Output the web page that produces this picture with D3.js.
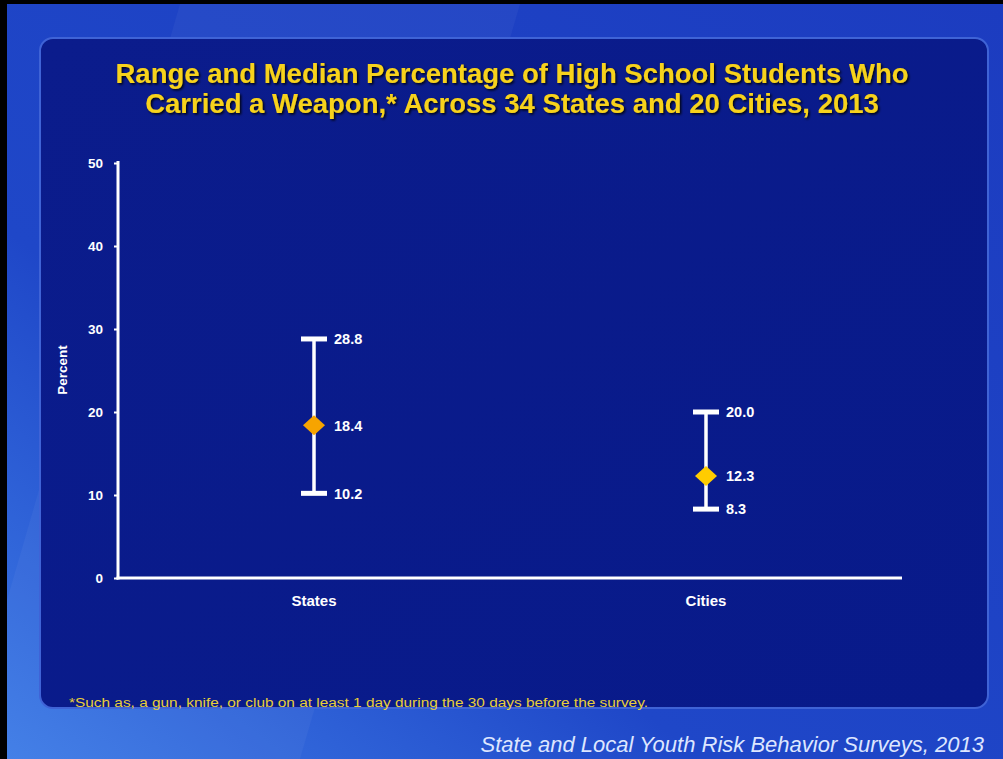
<!DOCTYPE html>
<html><head><meta charset="utf-8">
<script src="https://cdn.jsdelivr.net/npm/d3@7"></script>
<style>html,body{margin:0;padding:0;background:#000;}svg{display:block;}</style>
</head><body>
<svg id="c" width="1003" height="759"></svg>
<script>
const categories = ["States", "Cities"];
const lowValues = [10.2, 8.3];
const medianValues = [18.4, 12.3];
const highValues = [28.8, 20.0];
const yTicks = [0, 10, 20, 30, 40, 50];
const titleLines = ["Range and Median Percentage of High School Students Who", "Carried a Weapon,* Across 34 States and 20 Cities, 2013"];
const footnote = "*Such as, a gun, knife, or club on at least 1 day during the 30 days before the survey.";
const source = "State and Local Youth Risk Behavior Surveys, 2013";
const markerColors = ["#f7a400", "#ffcc00"];

const FONT = "Liberation Sans, Arial, sans-serif";
const svg = d3.select("#c");
const defs = svg.append("defs");
const bg = defs.append("linearGradient").attr("id","bg").attr("x1","0").attr("y1","1").attr("x2","1").attr("y2","0");
bg.append("stop").attr("offset","0").attr("stop-color","#3d7be6");
bg.append("stop").attr("offset","0.35").attr("stop-color","#1f47c8");
bg.append("stop").attr("offset","1").attr("stop-color","#1c3cc0");
const pg = defs.append("linearGradient").attr("id","pg").attr("x1","0").attr("y1","0").attr("x2","1").attr("y2","1");
pg.append("stop").attr("offset","0").attr("stop-color","#0b1c8c");
pg.append("stop").attr("offset","1").attr("stop-color","#081a8a");
const sh = defs.append("filter").attr("id","sh").attr("x","-5%").attr("y","-20%").attr("width","110%").attr("height","150%");
sh.append("feDropShadow").attr("dx",1.5).attr("dy",1.5).attr("stdDeviation",0.8).attr("flood-color","#000").attr("flood-opacity",0.9);

// background
svg.append("rect").attr("x",7).attr("y",4).attr("width",996).attr("height",755).attr("fill","url(#bg)");
svg.append("path").attr("d","M180,4 L520,4 L300,759 L7,759 L7,600 Z").attr("fill","#ffffff").attr("opacity",0.04);
// panel
svg.append("rect").attr("x",40).attr("y",38).attr("width",948).attr("height",670).attr("rx",13)
  .attr("fill","url(#pg)").attr("stroke","#3f63d6").attr("stroke-width",2);

// title
const title = svg.append("text").attr("text-anchor","middle").attr("font-family",FONT)
  .attr("font-weight","bold").attr("font-size",27.5).attr("fill","#f7d21a").attr("filter","url(#sh)");
titleLines.forEach((t,i)=> title.append("tspan").attr("x",512).attr("y",83 + i*30).text(t));

// scales
const y = d3.scaleLinear().domain([0,50]).range([578,163]);
const x = d3.scalePoint().domain(categories).range([314,706]);

// y axis
const yAxis = svg.append("g").attr("transform","translate(118,0)")
  .call(d3.axisLeft(y).tickValues(yTicks).tickSize(4).tickPadding(11));
yAxis.select(".domain").remove();
yAxis.selectAll(".tick line").attr("stroke","#fff").attr("stroke-width",2);
yAxis.selectAll(".tick text").attr("fill","#fff").attr("font-family",FONT)
  .attr("font-weight","bold").attr("font-size",13.5);
svg.append("line").attr("x1",118).attr("x2",118).attr("y1",y(50)-2).attr("y2",y(0)+1.5)
  .attr("stroke","#fff").attr("stroke-width",3);
svg.append("line").attr("x1",116.5).attr("x2",902).attr("y1",y(0)).attr("y2",y(0))
  .attr("stroke","#fff").attr("stroke-width",3);

// x labels
svg.append("g").selectAll("text").data(categories).join("text")
  .attr("x",d=>x(d)).attr("y",606).attr("text-anchor","middle").attr("fill","#fff")
  .attr("font-family",FONT).attr("font-weight","bold").attr("font-size",15)
  .text(d=>d);

// y label
svg.append("text").attr("transform","translate(67,370) rotate(-90)").attr("text-anchor","middle")
  .attr("fill","#fff").attr("font-family",FONT).attr("font-weight","bold")
  .attr("font-size",13.5).text("Percent");

// error bars
const g = svg.append("g");
categories.forEach((c,i)=>{
  const cx = x(c);
  g.append("line").attr("x1",cx).attr("x2",cx).attr("y1",y(highValues[i])).attr("y2",y(lowValues[i]))
    .attr("stroke","#fff").attr("stroke-width",3.5);
  [highValues[i], lowValues[i]].forEach(v=>{
    g.append("line").attr("x1",cx-13).attr("x2",cx+13).attr("y1",y(v)).attr("y2",y(v))
      .attr("stroke","#fff").attr("stroke-width",5);
  });
  const my = y(medianValues[i]);
  g.append("path").attr("d",`M${cx-11},${my} L${cx},${my-10} L${cx+11},${my} L${cx},${my+10} Z`)
    .attr("fill",markerColors[i]);
  [highValues[i], medianValues[i], lowValues[i]].forEach(v=>{
    g.append("text").attr("x",cx+20).attr("y",y(v)).attr("dy","0.36em").attr("fill","#fff")
      .attr("font-family",FONT).attr("font-weight","bold").attr("font-size",14.5)
      .text(v.toFixed(1));
  });
});

// footnote
svg.append("text").attr("x",69).attr("y",707).attr("fill","#e8cf3a")
  .attr("font-family",FONT).attr("font-size",12.5).attr("textLength",579).attr("lengthAdjust","spacingAndGlyphs").text(footnote);
// source
svg.append("text").attr("x",984).attr("y",752).attr("text-anchor","end").attr("fill","#dde6ff")
  .attr("font-family",FONT).attr("font-style","italic").attr("font-size",22).text(source);
</script>
</body></html>
